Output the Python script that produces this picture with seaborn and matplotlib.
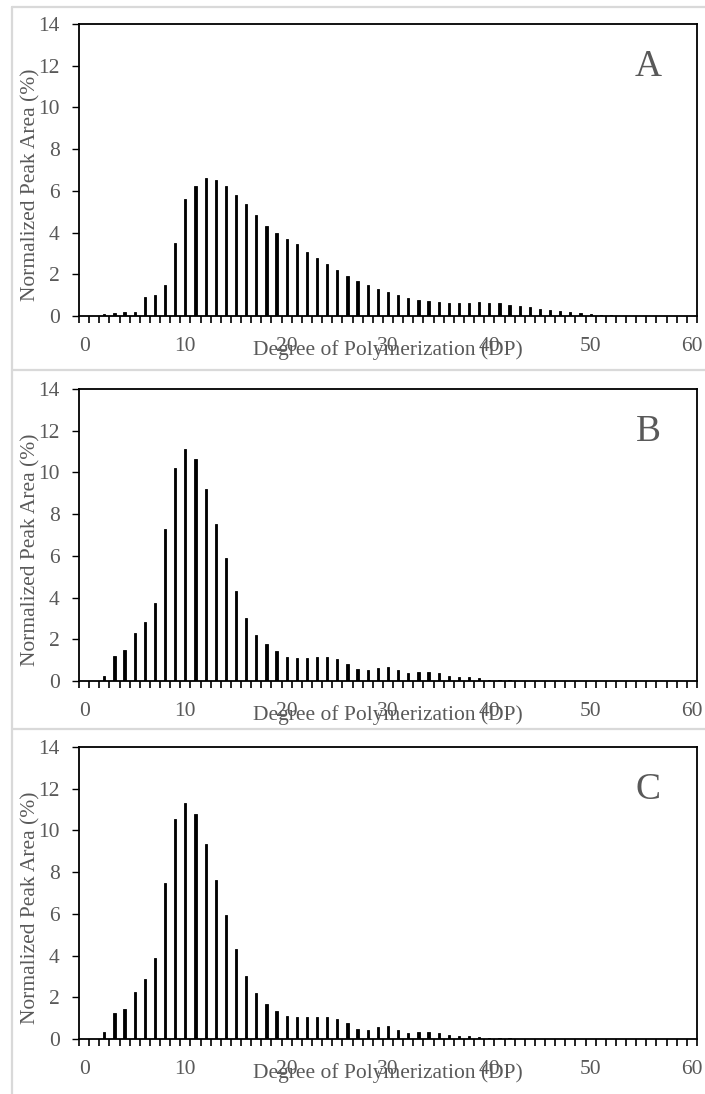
import numpy as np
import pandas as pd
import matplotlib
matplotlib.use("Agg")
import matplotlib.pyplot as plt
from matplotlib.lines import Line2D
import seaborn as sns

# ---------------- data ----------------
dp = list(range(61))
panel_letters = ["A", "B", "C"]

area_A = [0, 0, 0.11, 0.16, 0.18, 0.21, 0.92, 1.00, 1.48, 3.48,
          5.62, 6.21, 6.61, 6.52, 6.21, 5.81, 5.39, 4.83, 4.30, 3.99,
          3.70, 3.43, 3.07, 2.78, 2.49, 2.20, 1.91, 1.67, 1.48, 1.30,
          1.15, 1.01, 0.88, 0.79, 0.74, 0.69, 0.64, 0.64, 0.64, 0.66,
          0.63, 0.60, 0.53, 0.48, 0.42, 0.35, 0.29, 0.24, 0.19, 0.14,
          0.10, 0.06, 0.03, 0.02, 0, 0, 0, 0, 0, 0, 0]

area_B = [0, 0, 0.22, 1.20, 1.48, 2.28, 2.82, 3.75, 7.29, 10.21,
          11.13, 10.64, 9.22, 7.53, 5.92, 4.32, 3.01, 2.20, 1.77, 1.42,
          1.15, 1.12, 1.12, 1.15, 1.15, 1.07, 0.83, 0.57, 0.54, 0.64,
          0.69, 0.51, 0.37, 0.42, 0.42, 0.37, 0.22, 0.19, 0.18, 0.13,
          0.05, 0.03, 0.03, 0.02, 0, 0, 0, 0, 0, 0,
          0, 0, 0, 0, 0, 0, 0, 0, 0, 0, 0]

area_C = [0, 0, 0.32, 1.25, 1.45, 2.25, 2.88, 3.90, 7.49, 10.56,
          11.33, 10.77, 9.33, 7.64, 5.94, 4.33, 3.02, 2.19, 1.66, 1.34,
          1.12, 1.05, 1.07, 1.07, 1.04, 0.97, 0.77, 0.50, 0.45, 0.56,
          0.62, 0.43, 0.29, 0.32, 0.32, 0.27, 0.21, 0.16, 0.13, 0.08,
          0.05, 0.03, 0.03, 0.02, 0, 0, 0, 0, 0, 0,
          0, 0, 0, 0, 0, 0, 0, 0, 0, 0, 0]

y_ticks = [0, 2, 4, 6, 8, 10, 12, 14]
x_tick_labels = [0, 10, 20, 30, 40, 50, 60]
x_label = "Degree of Polymerization (DP)"
y_label = "Normalized Peak Area (%)"

# ---------------- style ----------------
sns.set_style("white")
plt.rcParams["font.family"] = ["Liberation Serif", "DejaVu Serif"]
TXT = "#595959"

W, H = 705, 1094
fig = plt.figure(figsize=(W / 100, H / 100), dpi=100)

ax_left = 79 / W
ax_w = 618 / W
ax_h = 292 / H
zero_px = [316, 681, 1039]
frame_tops = [7, 370, 729]

series = [area_A, area_B, area_C]

for i, (vals, letter) in enumerate(zip(series, panel_letters)):
    df = pd.DataFrame({"DP": dp, "area": vals})
    ax = fig.add_axes([ax_left, (H - zero_px[i]) / H, ax_w, ax_h])
    sns.barplot(data=df, x="DP", y="area", order=dp, color="black",
                saturation=1, width=0.22, errorbar=None, ax=ax,
                edgecolor="black", linewidth=0.6)
    ax.set_xlim(-0.5, 60.5)
    ax.set_ylim(0, 14)
    ax.set_yticks(y_ticks)
    ax.set_yticklabels([str(t) for t in y_ticks], color=TXT, fontsize=15.5)
    # x: ticks at category boundaries, labels every 10
    ax.set_xticks(np.arange(-0.5, 61, 1.0))
    ax.set_xticklabels([])
    ax.set_xticks(x_tick_labels, minor=True)
    ax.set_xticklabels([str(t) for t in x_tick_labels], minor=True,
                       color=TXT, fontsize=15.5)
    ax.tick_params(axis="x", which="major", direction="out", length=5,
                   width=1.2, color="black", bottom=True)
    ax.tick_params(axis="x", which="minor", length=0, pad=15, bottom=True)
    ax.tick_params(axis="y", which="major", direction="out", length=5,
                   width=1.0, color="black", left=True, pad=9)
    for s in ax.spines.values():
        s.set_visible(True)
        s.set_color("black")
        s.set_linewidth(1.3)
    ax.set_xlabel(x_label, color=TXT, fontsize=15.5)
    ax.set_ylabel(y_label, color=TXT, fontsize=15.5)
    ax.xaxis.set_label_coords(0.5, -0.115)
    ax.yaxis.set_label_coords(-0.078, 0.45)
    ax.xaxis.label.set_va("center")
    ax.yaxis.label.set_va("center")
    ax.text(55.7, 11.95, letter, fontsize=27, color=TXT,
            ha="center", va="center")

    # light gray panel frame lines
    yf = 1 - frame_tops[i] / H
    fig.add_artist(Line2D([12 / W, 1.0], [yf, yf], transform=fig.transFigure,
                          color="#d9d9d9", linewidth=1.6))

fig.add_artist(Line2D([12 / W, 12 / W], [0, 1 - 7 / H], transform=fig.transFigure,
                      color="#d9d9d9", linewidth=1.6))

fig.savefig("out.png", dpi=100, facecolor="white")
